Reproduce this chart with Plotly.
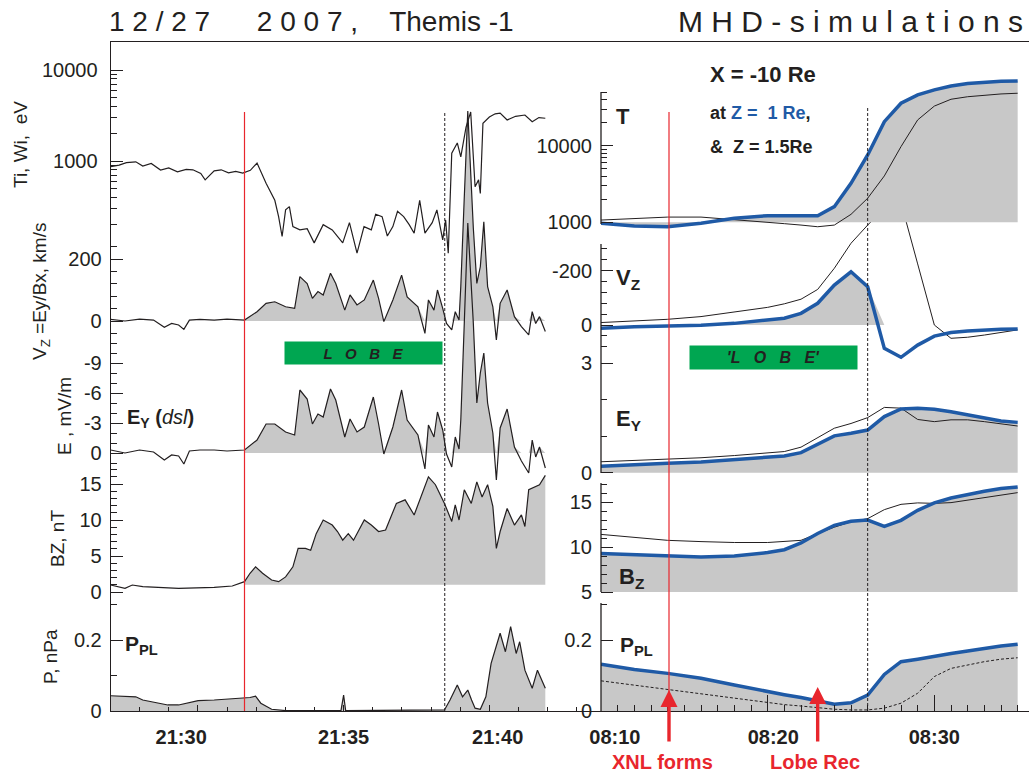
import numpy as np
import plotly.graph_objects as go

# ---------------- DATA ----------------
# Left column: THEMIS-1 observations, time in minutes after 21:00 UT
ti_t = [27.01, 27.30, 27.55, 27.87, 28.11, 28.40, 28.72, 29.00, 29.30, 29.60, 29.83, 30.10, 30.25,
        30.56, 30.80, 31.05, 31.30, 31.54, 31.80, 32.03, 32.34, 32.64, 32.77, 32.89,
        33.01, 33.14, 33.26, 33.50, 33.75, 33.99, 34.30, 34.61, 34.97, 35.20, 35.46, 35.70, 35.95,
        36.10, 36.32, 36.50, 36.69, 36.85, 37.06, 37.25, 37.42, 37.61, 37.79, 38.04, 38.20, 38.40,
        38.50, 38.59, 38.71, 38.90, 39.02, 39.20, 39.36, 39.51, 39.63, 39.69, 39.78, 40.00, 40.20,
        40.37, 40.61, 40.90, 41.22, 41.47, 41.70, 41.92]
ti_val = [866, 900, 960, 980, 880, 940, 796, 840, 760, 810, 800, 730, 620,
          780, 800, 740, 770, 738, 790, 950, 570, 370, 245, 148,
          290, 315, 190, 175, 180, 126, 200, 175, 126, 210, 97, 190, 175,
          260, 245, 150, 190, 280, 245, 200, 161, 370, 161, 210, 290, 136,
          225, 97, 1220, 1580, 1110, 2350, 3460, 520, 620, 440, 2600, 3040, 3300,
          3360, 2820, 3100, 3200, 2700, 3000, 2950]

vz_t = [27.01, 27.50, 28.00, 28.48, 28.85, 29.10, 29.34, 29.52, 29.71, 30.07, 30.56, 31.00, 31.60,
        32.03, 32.34, 32.64, 33.01, 33.32, 33.50, 33.75, 33.93, 34.12, 34.30, 34.55, 34.73, 35.04,
        35.22, 35.46, 35.71, 36.02, 36.20, 36.38, 36.69, 36.99, 37.18, 37.55, 37.79, 37.91, 38.10,
        38.22, 38.40, 38.53, 38.71, 38.83, 38.96, 39.02, 39.14, 39.26, 39.45, 39.57, 39.69, 39.81,
        39.94, 40.12, 40.24, 40.37, 40.61, 40.86, 41.10, 41.35, 41.47, 41.59, 41.72, 41.92]
vz_val = [5, 0, 6, 3, -20, -8, -13, -27, 3, 5, 3, 6, 3,
          30, 57, 62, 46, 41, 143, 121, 73, 95, 84, 154, 121, 35,
          84, 52, 68, 132, 73, -2, 68, 148, 78, 46, -40, 68, 35,
          100, 41, -8, -29, 30, 3, 111, 400, 677, 300, 121, 175, 320,
          111, 46, -61, 57, 100, 14, -18, -45, 30, -8, 14, -34]
ey_val = [-0.3, 0.0, -0.3, -0.1, 0.7, 0.2, 0.3, 1.1, -0.2, -0.3, -0.3, -0.2, -0.3,
          -1.3, -2.9, -2.9, -2.1, -1.8, -6.3, -5.4, -2.9, -3.9, -3.6, -6.4, -5.3, -1.6,
          -3.4, -2.1, -2.6, -5.6, -2.9, 0.1, -2.6, -6.3, -3.3, -1.8, 1.6, -2.8, -1.6,
          -4.1, -2.3, 0.1, 1.4, -1.6, -0.4, -3.3, -13.0, -23.0, -13.0, -5.0, -8.0, -10.0,
          -5.0, -2.0, 2.7, -2.5, -4.4, -0.6, 0.8, 2.0, -1.3, 0.4, -0.6, 1.5]

bz_t = [27.01, 27.26, 27.50, 27.75, 28.11, 29.34, 30.56, 31.18, 31.60, 31.79, 31.98, 32.22, 32.53,
        32.77, 33.01, 33.26, 33.44, 33.69, 33.87, 34.06, 34.30, 34.61, 34.79, 34.97, 35.16, 35.34,
        35.71, 35.95, 36.20, 36.44, 36.81, 37.11, 37.42, 37.91, 38.15, 38.46, 38.71, 38.83, 38.96,
        39.14, 39.38, 39.57, 39.75, 39.94, 40.12, 40.24, 40.37, 40.61, 40.86, 41.10, 41.22, 41.35,
        41.72, 41.92]
bz_val = [0.97, 0.74, 0.5, 0.97, 0.74, 0.5, 0.65, 0.83, 1.44, 2.6, 3.5, 2.6, 1.67,
          1.44, 2.1, 3.5, 6.06, 6.06, 5.8, 8.1, 10.0, 9.3, 8.4, 7.2, 8.1, 7.2,
          10.0, 9.3, 8.4, 8.6, 12.3, 12.8, 10.7, 16.0, 14.9, 12.3, 9.8, 12.1, 10.0,
          14.2, 12.3, 15.3, 13.2, 14.9, 11.9, 6.06, 8.4, 11.6, 9.3, 10.7, 9.1, 14.2,
          14.9, 16.2]

p_t = [27.01, 27.87, 28.11, 28.97, 29.34, 30.01, 30.56, 31.79, 31.98, 32.16, 32.53, 33.01, 34.91,
       35.00, 35.07, 37.91, 38.46, 38.65, 38.90, 39.08, 39.26, 39.39, 39.51, 39.69, 39.88, 40.06,
       40.37, 40.55, 40.73, 40.92, 41.04, 41.22, 41.47, 41.65, 41.92]
p_val = [0.043, 0.040, 0.031, 0.017, 0.017, 0.029, 0.031, 0.038, 0.042, 0.022, 0.005, 0.001, 0.001,
         0.045, 0.001, 0.002, 0.003, 0.031, 0.073, 0.040, 0.059, 0.031, 0.008, 0.005, 0.040, 0.134,
         0.219, 0.167, 0.238, 0.162, 0.195, 0.115, 0.064, 0.115, 0.064]

# Right column: MHD simulation, time in minutes after 08:00 UT
mhd_t = [10, 12, 14, 16, 18, 20, 21, 22, 23, 24, 25, 26, 27, 28, 29, 30, 31, 32, 33, 34, 35]
T_z1 = [970, 895, 875, 970, 1130, 1220, 1220, 1220, 1220, 1600, 3230, 7560, 20600, 35800, 46100,
        53500, 60000, 65000, 68000, 69500, 70000]
T_z15 = [1070, 1130, 1170, 1170, 1090, 1000, 960, 920, 875, 920, 1270, 2060, 4030, 9730, 21700,
         32900, 40400, 43600, 45500, 47400, 48400]
VZ_z1 = [12, 6, 4, 1, -6, -18, -25, -43, -80, -147, -196, -141, 86, 119, 74, 41, 28, 22, 18, 16, 15]
VZ_z15 = [-9, -15, -21, -31, -49, -65, -78, -95, -131, -209, -301, -368, -430, -450, -225, 0, 49,
          45, 37, 28, 18]
EY_z1 = [0.18, 0.23, 0.26, 0.29, 0.35, 0.41, 0.46, 0.55, 0.79, 1.01, 1.08, 1.17, 1.54, 1.75, 1.77,
         1.74, 1.67, 1.58, 1.49, 1.42, 1.38]
EY_z15 = [0.30, 0.33, 0.37, 0.41, 0.47, 0.53, 0.58, 0.70, 0.97, 1.22, 1.35, 1.51, 1.79, 1.77, 1.46,
          1.40, 1.45, 1.45, 1.40, 1.34, 1.28]
BZ_z1 = [9.27, 9.15, 9.0, 8.9, 9.0, 9.38, 9.7, 10.45, 11.5, 12.4, 12.85, 13.0, 12.3, 12.96, 14.08,
         14.9, 15.45, 15.86, 16.2, 16.5, 16.67]
BZ_z15 = [11.4, 11.04, 10.74, 10.6, 10.5, 10.5, 10.6, 10.74, 11.5, 12.2, 12.8, 13.15, 14.15, 14.74,
          14.9, 14.85, 14.93, 15.2, 15.45, 15.75, 16.04]
P_z1 = [0.132, 0.117, 0.106, 0.092, 0.073, 0.054, 0.046, 0.038, 0.028, 0.019, 0.023, 0.045, 0.103,
        0.139, 0.146, 0.155, 0.162, 0.169, 0.177, 0.183, 0.188]
P_z15 = [0.085, 0.073, 0.061, 0.048, 0.036, 0.023, 0.018, 0.014, 0.009, 0.005, 0.003, 0.003, 0.008,
         0.022, 0.050, 0.097, 0.120, 0.130, 0.139, 0.146, 0.150]

# event times
LEFT_XNL_T, LEFT_DIP_T = 31.60, 38.47
RIGHT_XNL_T, RIGHT_DIP_T, RIGHT_LOBE_T = 14.08, 26.0, 23.0

# tick labels
nb = "\u00a0"
left_xticks = [30, 35, 40]
left_xlabels = ["21:30" + nb * 6, "21:35", nb * 3 + "21:40"]
right_xticks = [10, 20, 30]
right_xlabels = [nb * 5 + "08:10", nb * 2 + "08:20", "08:30"]

# ---------------- LAYOUT (pixels) ----------------
W, H = 1029, 774
TOP, BOTTOM = 42, 711
XL, XM = 110.7, 601
FONT = "Liberation Sans, Arial, sans-serif"
INK = "#231f20"
GREY = "#c8c8c8"
BLUE = "#1f5aa6"
RED = "#e8262d"
GREEN = "#00a651"


def fx(px):
    return px / W


def fy(py):
    return 1 - py / H


def rng(ref):
    (v1, p1), (v2, p2) = ref
    s = (v2 - v1) / (p2 - p1)
    return [v1 + (BOTTOM - p1) * s, v1 + (TOP - p1) * s]


def yaxis(ref, ticks, labels, minor, anchor, overlay=None, log=False, showline=False, ticklen=12):
    d = dict(domain=[fy(BOTTOM), fy(TOP)], range=rng(ref), type="log" if log else "linear",
             anchor=anchor, tickmode="array", tickvals=ticks, ticktext=labels, automargin=False,
             ticks="inside", ticklen=ticklen, tickwidth=1, tickcolor=INK,
             showgrid=False, zeroline=False, showline=showline, linecolor=INK, linewidth=1.3,
             tickfont=dict(family=FONT, size=20, color=INK), ticklabelstandoff=8,
             minor=dict(tickmode="array", tickvals=minor, ticks="inside", ticklen=6,
                        tickwidth=1, tickcolor=INK, showgrid=False))
    if overlay:
        d["overlaying"] = overlay
    return d


fig = go.Figure()


def line(x, y, xa, ya, color=INK, width=1.2, dash=None):
    fig.add_trace(go.Scatter(x=x, y=y, xaxis=xa, yaxis=ya, mode="lines",
                             line=dict(color=color, width=width, dash=dash),
                             hoverinfo="skip", showlegend=False))


def fill(x, base, y, xa, ya):
    fig.add_trace(go.Scatter(x=x, y=base, xaxis=xa, yaxis=ya, mode="lines",
                             line=dict(width=0), hoverinfo="skip", showlegend=False))
    fig.add_trace(go.Scatter(x=x, y=y, xaxis=xa, yaxis=ya, mode="lines", fill="tonexty",
                             fillcolor=GREY, line=dict(width=0), hoverinfo="skip",
                             showlegend=False))


# ---- left column ----
line(ti_t, ti_val, "x", "y")

vt = np.array(vz_t)
after = vt >= LEFT_XNL_T
fill(vt[after], np.zeros(after.sum()), np.maximum(np.array(vz_val)[after], 0), "x", "y2")
line(vz_t, vz_val, "x", "y2")

fill(vt[after], np.zeros(after.sum()), np.minimum(np.array(ey_val)[after], 0), "x", "y3")
line(vz_t, ey_val, "x", "y3")

bt = np.array(bz_t)
bafter = bt >= LEFT_XNL_T
fill(bt[bafter], np.ones(bafter.sum()), np.array(bz_val)[bafter], "x", "y4")
line(bz_t, bz_val, "x", "y4")

fill(p_t, np.zeros(len(p_t)), p_val, "x", "y5")
line(p_t, p_val, "x", "y5")

# ---- right column (y6 P, y7 Bz, y8 Ey, y9 Vz, y10 T) ----
n = len(mhd_t)
fill(mhd_t, np.zeros(n), P_z1, "x2", "y6")
line(mhd_t, P_z15, "x2", "y6", width=1, dash="3px,2px")
line(mhd_t, P_z1, "x2", "y6", color=BLUE, width=3.5)

fill(mhd_t, np.full(n, 5.0), BZ_z1, "x2", "y7")
line(mhd_t, BZ_z15, "x2", "y7", width=1)
line(mhd_t, BZ_z1, "x2", "y7", color=BLUE, width=3.5)

fill(mhd_t, np.zeros(n), EY_z1, "x2", "y8")
line(mhd_t, EY_z15, "x2", "y8", width=1)
line(mhd_t, EY_z1, "x2", "y8", color=BLUE, width=3.5)

fill(mhd_t, np.zeros(n), np.minimum(np.array(VZ_z1), 0), "x2", "y9")
line(mhd_t, VZ_z15, "x2", "y9", width=1)
line(mhd_t, VZ_z1, "x2", "y9", color=BLUE, width=3.5)

fill(mhd_t, np.full(n, 1000.0), T_z1, "x2", "y10")
line(mhd_t, T_z15, "x2", "y10", width=1)
line(mhd_t, T_z1, "x2", "y10", color=BLUE, width=3.5)

# ---------------- AXES ----------------
xcommon = dict(showgrid=False, zeroline=False, showline=True, mirror=True, linecolor=INK,
               linewidth=1.3, ticks="inside", tickcolor=INK, tickmode="array", automargin=False,
               tickfont=dict(family=FONT, size=20, color=INK, weight="bold"),
               ticklabelstandoff=8)
layout = dict(
    width=W, height=H, margin=dict(l=0, r=0, t=0, b=0, pad=0, autoexpand=False),
    paper_bgcolor="white", plot_bgcolor="rgba(0,0,0,0)", showlegend=False,
    xaxis=dict(domain=[fx(XL), fx(XM)], range=[27.01, 43.83], anchor="y",
               tickvals=left_xticks, ticktext=left_xlabels, ticklen=6,
               minor=dict(dtick=1, tick0=0, ticks="inside", ticklen=4, tickcolor=INK), **xcommon),
    xaxis2=dict(domain=[fx(XM), 1], range=[10.0, 35.68], anchor="y6",
                tickvals=right_xticks, ticktext=right_xlabels, ticklen=16,
                minor=dict(dtick=1, tick0=0, ticks="inside", ticklen=6, tickcolor=INK), **xcommon),
    yaxis=yaxis(((3, 161), (4, 70)), [1000, 10000], ["1000", "10000"],
                [200, 300, 400, 500, 600, 700, 800, 900, 2000, 3000, 4000, 5000, 6000, 7000, 8000, 9000],
                "x", log=True, showline=True),
    yaxis2=yaxis(((0, 321), (200, 259)), [0, 200], ["0", "200"], [-40, 40, 80, 120, 160, 240],
                 "x", overlay="y"),
    yaxis3=yaxis(((0, 453), (-9, 363)), [-9, -6, -3, 0], ["-9", "-6", "-3", "0"],
                 [-11, -10, -8, -7, -5, -4, -2, -1, 1], "x", overlay="y"),
    yaxis4=yaxis(((0, 592), (15, 484)), [0, 5, 10, 15], ["0", "5", "10", "15"],
                 [1, 2, 3, 4, 6, 7, 8, 9, 11, 12, 13, 14, 16, 17], "x", overlay="y"),
    yaxis5=yaxis(((0, 711), (0.2, 640)), [0, 0.2], ["0", "0.2"], [0.1, 0.3], "x", overlay="y"),
    yaxis6=yaxis(((0, 711), (0.2, 640)), [0, 0.2], ["0", "0.2"], [0.3], "x2"),
    yaxis7=yaxis(((5, 592), (15, 502)), [5, 10, 15], ["5", "10", "15"],
                 [6, 7, 8, 9, 11, 12, 13, 14, 16, 17], "x2", overlay="y6"),
    yaxis8=yaxis(((0, 472.7), (3, 363.3)), [0, 3], ["0", "3"], [1, 2], "x2", overlay="y6"),
    yaxis9=yaxis(((0, 325), (-200, 270.7)), [-200, 0], ["-200", "0"],
                 [-280, -240, -160, -120, -80, -40, 40, 80], "x2", overlay="y6"),
    yaxis10=yaxis(((3, 222.3), (4, 145.7)), [1000, 10000], ["1000", "10000"],
                  [2000, 3000, 4000, 5000, 6000, 7000, 8000, 9000, 20000, 30000, 40000, 50000],
                  "x2", overlay="y6", log=True),
)
fig.update_layout(**layout)

# ---------------- SHAPES ----------------
shapes = []
# right-column axis line segments (pixel extents of each panel)
for a, b in [(92, 224), (244, 473), (483, 592), (603, 711)]:
    shapes.append(dict(type="line", xref="paper", yref="paper", x0=fx(XM), x1=fx(XM),
                       y0=fy(a), y1=fy(b), line=dict(color=INK, width=1.3)))
shapes.append(dict(type="line", xref="x", yref="paper", x0=LEFT_XNL_T, x1=LEFT_XNL_T,
                   y0=fy(BOTTOM), y1=fy(112), line=dict(color=RED, width=1.2)))
shapes.append(dict(type="line", xref="x", yref="paper", x0=LEFT_DIP_T, x1=LEFT_DIP_T,
                   y0=fy(BOTTOM), y1=fy(111), line=dict(color=INK, width=1, dash="3px,2px")))
shapes.append(dict(type="line", xref="x2", yref="paper", x0=RIGHT_XNL_T, x1=RIGHT_XNL_T,
                   y0=fy(BOTTOM), y1=fy(112), line=dict(color=RED, width=1.2)))
shapes.append(dict(type="line", xref="x2", yref="paper", x0=RIGHT_DIP_T, x1=RIGHT_DIP_T,
                   y0=fy(BOTTOM), y1=fy(107), line=dict(color=INK, width=1, dash="3px,2px")))
fig.update_layout(shapes=shapes)

# ---------------- ANNOTATIONS ----------------
ann = []


def text(s, px, py, size, xanchor="left", yanchor="middle", color=INK, angle=0, **kw):
    ann.append(dict(text=s, x=fx(px), y=fy(py), xref="paper", yref="paper", showarrow=False,
                    xanchor=xanchor, yanchor=yanchor, textangle=angle,
                    font=dict(family=FONT, size=size, color=color), **kw))


text(nb.join("12/27") + nb * 6 + nb.join("2007,") + nb * 4 + "Themis" + nb + "-1",
     107, 21, 28)
text(nb.join("MHD-simulations"), 1025, 21, 30, xanchor="right")

# y-axis titles (left column)
text("Ti, Wi,  eV", 20, 145, 19, xanchor="center", angle=-90)
text("V<sub>Z</sub> =Ey/Bx, km/s", 41, 292, 19, xanchor="center", angle=-90)
text("E , mV/m", 64, 416, 19, xanchor="center", angle=-90)
text("BZ, nT", 57, 539, 19, xanchor="center", angle=-90)
text("P, nPa", 50, 657, 19, xanchor="center", angle=-90)

# panel labels
text("<b>E<sub>Y</sub> (</b><i>dsl</i><b>)</b>", 125, 418, 20)
text("<b>P<sub>PL</sub></b>", 123, 645, 21)
text("<b>T</b>", 614, 116, 22)
text("<b>V<sub>Z</sub></b>", 614, 279, 22)
text("<b>E<sub>Y</sub></b>", 614, 420, 22)
text("<b>B<sub>Z</sub></b>", 617, 578, 22)
text("<b>P<sub>PL</sub></b>", 618, 646, 21)

# simulation description
text("<b>X = -10 Re</b>", 708, 74, 22)
text("<b>at <span style='color:%s'>Z =  1 Re</span>,</b>" % BLUE, 708, 113, 18)
text("<b>&  Z = 1.5Re</b>", 708, 147, 18)

# LOBE boxes
text("<b><i>" + (nb * 3).join("LOBE") + "</i></b>", 363.5, 353, 15, xanchor="center",
     bgcolor=GREEN, width=155, height=20)
text("<b><i>'" + (nb * 3).join("LOBE") + "'</i></b>", 773.5, 357.5, 16, xanchor="center",
     bgcolor=GREEN, width=165, height=21)

# red arrows and labels
for t, tip, label, lx in [(RIGHT_XNL_T, 690, "XNL forms", 662), (RIGHT_LOBE_T, 687, "Lobe Rec", 815)]:
    ann.append(dict(x=t, xref="x2", y=fy(tip), yref="paper", ax=0, ay=743 - tip, text="",
                    showarrow=True, arrowhead=2, arrowsize=1, arrowwidth=3.4, arrowcolor=RED))
    text("<b>" + label + "</b>", lx, 762, 20, xanchor="center", color=RED)

fig.update_layout(annotations=ann)
fig.write_html("out.html")
